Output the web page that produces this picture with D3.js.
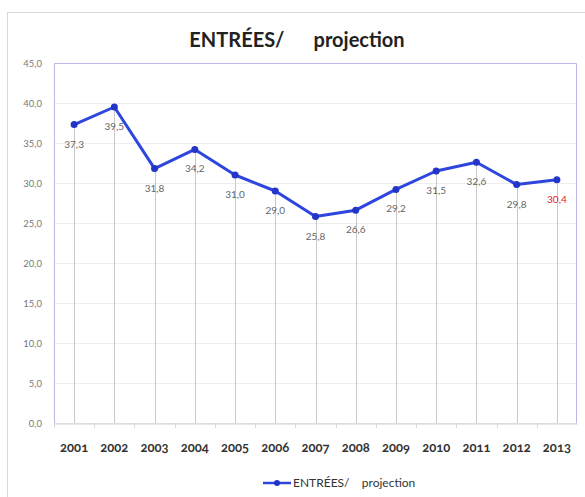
<!DOCTYPE html>
<html>
<head>
<meta charset="utf-8">
<script src="https://d3js.org/d3.v7.min.js"></script>
<style>
  body { margin: 0; background: #fff; }
  svg text { font-family: Lato, "Open Sans", sans-serif; }
</style>
</head>
<body>
<script>
// data
var years = ["2001","2002","2003","2004","2005","2006","2007","2008","2009","2010","2011","2012","2013"];
var entrees = [37.3, 39.5, 31.8, 34.2, 31.0, 29.0, 25.8, 26.6, 29.2, 31.5, 32.6, 29.8, 30.4];
var yTicks = [0, 5, 10, 15, 20, 25, 30, 35, 40, 45];
var seriesName = "ENTRÉES/\u00a0\u00a0\u00a0\u00a0projection";

var width = 585, height = 497;
var margin = {top: 63, right: 8, bottom: 74, left: 54};

var svg = d3.select("body").append("svg")
    .attr("width", width)
    .attr("height", height);

// outer chart frame
svg.append("rect")
    .attr("x", 7.5).attr("y", 12.5)
    .attr("width", 600).attr("height", 500)
    .attr("fill", "#fff")
    .attr("stroke", "#d9d9d9");

var x = d3.scaleBand()
    .domain(years)
    .range([margin.left, width - margin.right]);

var y = d3.scaleLinear()
    .domain([0, 45])
    .range([height - margin.bottom, margin.top]);

var fmt = function(v) { return d3.format(".1f")(v).replace(".", ","); };
var cx = function(d, i) { return x(years[i]) + x.bandwidth() / 2; };

// horizontal gridlines
svg.append("g")
  .selectAll("line")
  .data(yTicks)
  .enter().append("line")
    .attr("x1", margin.left).attr("x2", width - margin.right)
    .attr("y1", function(d) { return y(d) + 0.5; })
    .attr("y2", function(d) { return y(d) + 0.5; })
    .attr("stroke", "#ececec");

// drop lines
svg.append("g")
  .selectAll("line")
  .data(entrees)
  .enter().append("line")
    .attr("x1", function(d, i) { return Math.round(cx(d, i)) + 0.5; })
    .attr("x2", function(d, i) { return Math.round(cx(d, i)) + 0.5; })
    .attr("y1", function(d) { return y(d); })
    .attr("y2", y(0))
    .attr("stroke", "#c8c8c8");

// plot frame (left / top / right are bluish)
svg.append("path")
    .attr("d", "M" + (margin.left + 0.5) + "," + y(0) + "V" + (margin.top + 0.5) +
      "H" + (width - margin.right - 0.5) + "V" + y(0))
    .attr("fill", "none")
    .attr("stroke", "#b9b9e6");

// x axis
var xAxis = svg.append("g")
    .attr("transform", "translate(0," + (y(0) + 0.5) + ")")
    .call(d3.axisBottom(x).tickSize(0).tickPadding(19));
xAxis.select(".domain").attr("stroke", "#cfcfcf");
xAxis.selectAll("text")
    .attr("fill", "#333")
    .style("font-size", "13px")
    .style("font-weight", "bold")
    .style("font-variant-numeric", "oldstyle-nums");

// small ticks between categories
svg.append("g")
  .selectAll("line")
  .data(years)
  .enter().append("line")
    .attr("x1", function(d) { return Math.round(x(d)) + 0.5; })
    .attr("x2", function(d) { return Math.round(x(d)) + 0.5; })
    .attr("y1", y(0)).attr("y2", y(0) + 5)
    .attr("stroke", "#d8d8d8");

// y axis labels
var yAxis = svg.append("g")
    .attr("transform", "translate(" + margin.left + ",0)")
    .call(d3.axisLeft(y).tickValues(yTicks).tickFormat(fmt).tickSize(0).tickPadding(12));
yAxis.select(".domain").remove();
yAxis.selectAll("text")
    .attr("fill", "#777")
    .style("font-size", "9.5px");

// line
var line = d3.line()
    .x(cx)
    .y(function(d) { return y(d); });

svg.append("path")
    .datum(entrees)
    .attr("d", line)
    .attr("fill", "none")
    .attr("stroke", "#2e45de")
    .attr("stroke-width", 3)
    .attr("stroke-linejoin", "round");

svg.append("g")
  .selectAll("circle")
  .data(entrees)
  .enter().append("circle")
    .attr("cx", cx)
    .attr("cy", function(d) { return y(d); })
    .attr("r", 3.5)
    .attr("fill", "#2235c8");

// value labels
svg.append("g")
  .selectAll("text")
  .data(entrees)
  .enter().append("text")
    .attr("x", cx)
    .attr("y", function(d) { return y(d) + 23; })
    .attr("text-anchor", "middle")
    .attr("fill", function(d, i) { return i == entrees.length - 1 ? "#e8202a" : "#666"; })
    .style("font-size", "10px")
    .text(fmt);

// title
svg.append("text")
    .attr("x", 297).attr("y", 47)
    .attr("text-anchor", "middle")
    .attr("fill", "#222")
    .style("font-size", "20px")
    .style("font-weight", "bold")
    .text("ENTRÉES/\u00a0\u00a0\u00a0\u00a0\u00a0\u00a0projection");

// legend
var lg = svg.append("g").attr("transform", "translate(263,483)");
lg.append("line")
    .attr("x1", 0).attr("x2", 28)
    .attr("stroke", "#2e45de").attr("stroke-width", 2.5);
lg.append("circle").attr("cx", 14).attr("r", 3).attr("fill", "#2235c8");
lg.append("text")
    .attr("x", 30).attr("dy", "0.35em")
    .attr("fill", "#333")
    .style("font-size", "12px")
    .text(seriesName);
</script>
</body>
</html>
